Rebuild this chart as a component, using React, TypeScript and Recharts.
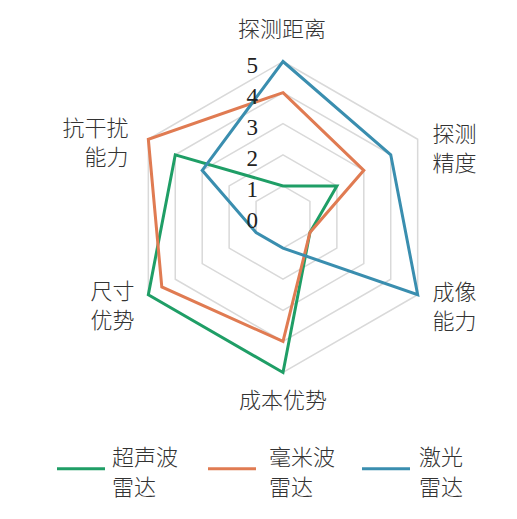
import React from 'react';
import { RadarChart, Radar, PolarGrid, PolarAngleAxis, PolarRadiusAxis } from 'recharts';

const categories = ['探测距离', '探测精度', '成像能力', '成本优势', '尺寸优势', '抗干扰能力'];
const categoryLines = [['探测距离'], ['探测', '精度'], ['成像', '能力'], ['成本优势'], ['尺寸', '优势'], ['抗干扰', '能力']];
const ultrasonic = [1, 2, 1, 5, 5, 4];
const mmWave = [4, 3, 1, 4, 4.5, 5];
const lidar = [5, 4, 5, 1, 1, 3];
const seriesNames = ['超声波雷达', '毫米波雷达', '激光雷达'];
const seriesLegendLines = [['超声波', '雷达'], ['毫米波', '雷达'], ['激光', '雷达']];
const radiusTicks = [0, 1, 2, 3, 4, 5];

const colors = ['#1f9e66', '#e07b52', '#3a8eaf'];
const keys = ['ultrasonic', 'mmWave', 'lidar'];

const data = categories.map((name, i) => ({
  name,
  ultrasonic: ultrasonic[i],
  mmWave: mmWave[i],
  lidar: lidar[i],
}));

// label layout offsets per axis (dx, dy of first baseline, anchor, line height)
const labelLayout = [
  { dx: -1, dy: -17, anchor: 'middle', lh: 29 },
  { dx: 8, dy: 7, anchor: 'start', lh: 29 },
  { dx: 8, dy: 1, anchor: 'start', lh: 29 },
  { dx: 0, dy: 27, anchor: 'middle', lh: 29 },
  { dx: -7, dy: 0, anchor: 'end', lh: 29 },
  { dx: -13, dy: 1, anchor: 'end', lh: 29 },
];

const labelFont = '"Noto Sans CJK SC", "Noto Sans", sans-serif';

const AngleTick = (props: any) => {
  const { x, y, payload } = props;
  const idx = categories.indexOf(payload.value);
  const lay = labelLayout[idx] || labelLayout[0];
  const lines = categoryLines[idx] || [payload.value];
  return (
    <text
      x={x + lay.dx}
      y={y + lay.dy}
      textAnchor={lay.anchor}
      fontSize={22}
      fontFamily={labelFont}
      fontWeight={300}
      fill="#333"
    >
      {lines.map((l, i) => (
        <tspan key={i} x={x + lay.dx} dy={i === 0 ? 0 : lay.lh}>
          {l}
        </tspan>
      ))}
    </text>
  );
};

const RadiusTick = (props: any) => {
  const { x, y, payload } = props;
  return (
    <text
      x={x - 25}
      y={y + 11}
      textAnchor="end"
      fontSize={23}
      fontFamily='"Liberation Serif", "DejaVu Serif", serif'
      fill="#222"
    >
      {payload.value}
    </text>
  );
};

const legendX = [57, 208, 362];
const legendTextDx = [55, 61, 57];

export default function App() {
  return (
    <div style={{ position: 'absolute', left: 0, top: 0, width: 517, height: 519, background: '#fff' }}>
      <RadarChart
        width={517}
        height={519}
        data={data}
        cx={283}
        cy={217}
        outerRadius={155.5}
        margin={{ top: 0, right: 0, bottom: 0, left: 0 }}
      >
        <PolarGrid gridType="polygon" radialLines={false} stroke="#d9d9d9" strokeWidth={1.5} />
        <PolarAngleAxis dataKey="name" tick={<AngleTick />} tickLine={false} axisLine={false} />
        <PolarRadiusAxis
          angle={90}
          domain={[0, 5]}
          ticks={radiusTicks as any}
          tickCount={6}
          axisLine={false}
          tick={<RadiusTick />}
        />
        {keys.map((k, i) => (
          <Radar
            key={k}
            name={seriesNames[i]}
            dataKey={k}
            stroke={colors[i]}
            strokeWidth={3}
            fill="none"
            fillOpacity={0}
            dot={false}
            isAnimationActive={false}
          />
        ))}
      </RadarChart>
      <svg width={517} height={80} style={{ position: 'absolute', left: 0, top: 440 }}>
        {seriesLegendLines.map((lines, i) => (
          <g key={i}>
            <line x1={legendX[i]} x2={legendX[i] + 48} y1={28.7} y2={28.7} stroke={colors[i]} strokeWidth={3} />
            <text
              x={legendX[i] + legendTextDx[i]}
              y={25}
              fontSize={22}
              fontFamily={labelFont}
              fontWeight={300}
              fill="#333"
            >
              {lines.map((l, j) => (
                <tspan key={j} x={legendX[i] + legendTextDx[i]} dy={j === 0 ? 0 : 30}>
                  {l}
                </tspan>
              ))}
            </text>
          </g>
        ))}
      </svg>
    </div>
  );
}
